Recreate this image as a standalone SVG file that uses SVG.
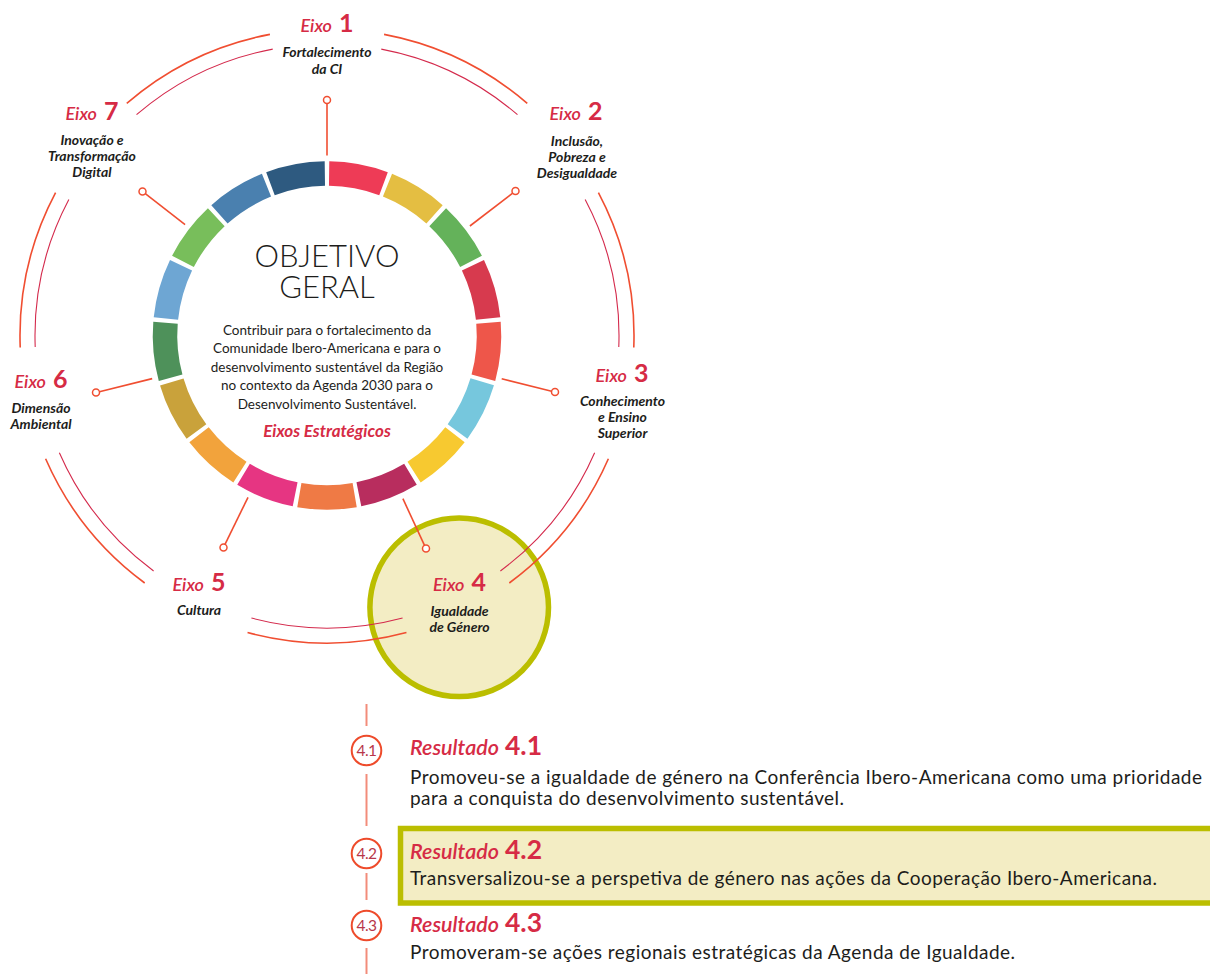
<svg xmlns="http://www.w3.org/2000/svg" width="1210" height="974" viewBox="0 0 1210 974">
<style>
.seg{fill:none;stroke-width:24.5;stroke-dasharray:55.63 2000}
.ao{fill:none;stroke:#F04E31;stroke-width:1.6;stroke-dasharray:160.74 2000}
.ai{fill:none;stroke:#D42A4C;stroke-width:1.1;stroke-dasharray:152.89 2000}
.sp{stroke:#F04E31;stroke-width:1.6;fill:none}
.dot{fill:#fff;stroke:#F04E31;stroke-width:1.5}
.et{font-family:Lato,"Liberation Sans",sans-serif;font-style:italic;font-weight:600;font-size:18px;fill:#D62B45;text-anchor:middle}
.en{font-style:normal;font-weight:700;font-size:25px}
.lb{font-family:Lato,"Liberation Sans",sans-serif;font-style:italic;font-weight:700;font-size:14px;fill:#1d1d1b;text-anchor:middle}
.big{font-family:Lato,"Liberation Sans",sans-serif;font-weight:300;font-size:31px;fill:#1d1d1b;text-anchor:middle}
.par{font-family:Lato,"Liberation Sans",sans-serif;font-size:13.5px;fill:#1d1d1b;text-anchor:middle}
.es{font-family:Lato,"Liberation Sans",sans-serif;font-style:italic;font-weight:700;font-size:17px;fill:#D62B45;text-anchor:middle}
.rt{font-family:Lato,"Liberation Sans",sans-serif;font-style:italic;font-weight:600;font-size:21.5px;fill:#D62B45}
.rn{font-style:normal;font-weight:700;font-size:26.5px}
.rb{font-family:Lato,"Liberation Sans",sans-serif;font-size:19px;fill:#1d1d1b}
.vl{stroke:#F28C7A;stroke-width:2}
.nc{fill:#fff;stroke:#EE4B2B;stroke-width:2}
.nt{font-family:Lato,"Liberation Sans",sans-serif;font-weight:400;font-size:15.5px;fill:#B8374A;text-anchor:middle;letter-spacing:-0.5px}
.hl{fill:#F3EDC4;stroke:#BBBE00;stroke-width:5.5}
</style>
<rect width="1210" height="974" fill="#fff"/>
<g id="ring">
<circle class="seg" cx="327" cy="335.5" r="162" stroke="#EE3B56" transform="rotate(-89.25 327 335.5)"/>
<circle class="seg" cx="327" cy="335.5" r="162" stroke="#E4BE42" transform="rotate(-68.074 327 335.5)"/>
<circle class="seg" cx="327" cy="335.5" r="162" stroke="#64B25A" transform="rotate(-46.897 327 335.5)"/>
<circle class="seg" cx="327" cy="335.5" r="162" stroke="#D73A4E" transform="rotate(-25.721 327 335.5)"/>
<circle class="seg" cx="327" cy="335.5" r="162" stroke="#EE564A" transform="rotate(-4.544 327 335.5)"/>
<circle class="seg" cx="327" cy="335.5" r="162" stroke="#76C7DD" transform="rotate(16.632 327 335.5)"/>
<circle class="seg" cx="327" cy="335.5" r="162" stroke="#F7C930" transform="rotate(37.809 327 335.5)"/>
<circle class="seg" cx="327" cy="335.5" r="162" stroke="#B82D5E" transform="rotate(58.985 327 335.5)"/>
<circle class="seg" cx="327" cy="335.5" r="162" stroke="#EF7A45" transform="rotate(80.162 327 335.5)"/>
<circle class="seg" cx="327" cy="335.5" r="162" stroke="#E63582" transform="rotate(101.338 327 335.5)"/>
<circle class="seg" cx="327" cy="335.5" r="162" stroke="#F2A33C" transform="rotate(122.515 327 335.5)"/>
<circle class="seg" cx="327" cy="335.5" r="162" stroke="#C9A23B" transform="rotate(143.691 327 335.5)"/>
<circle class="seg" cx="327" cy="335.5" r="162" stroke="#4E915A" transform="rotate(164.868 327 335.5)"/>
<circle class="seg" cx="327" cy="335.5" r="162" stroke="#6EA6D3" transform="rotate(186.044 327 335.5)"/>
<circle class="seg" cx="327" cy="335.5" r="162" stroke="#78BE5B" transform="rotate(207.221 327 335.5)"/>
<circle class="seg" cx="327" cy="335.5" r="162" stroke="#4A80AF" transform="rotate(228.397 327 335.5)"/>
<circle class="seg" cx="327" cy="335.5" r="162" stroke="#2E5A80" transform="rotate(249.574 327 335.5)"/>
</g>
<g id="objetivo">
<text class="big" x="327" y="266.5">OBJETIVO</text>
<text class="big" x="327" y="297.5">GERAL</text>
<text class="par" x="327" y="334.5">Contribuir para o fortalecimento da</text>
<text class="par" x="327" y="353">Comunidade Ibero-Americana e para o</text>
<text class="par" x="327" y="371.5">desenvolvimento sustentável da Região</text>
<text class="par" x="327" y="390">no contexto da Agenda 2030 para o</text>
<text class="par" x="327" y="408.5">Desenvolvimento Sustentável.</text>
<text class="es" x="327" y="436.5">Eixos Estratégicos</text>
</g>
<g id="eixo4-circle">
<circle class="hl" cx="459.2" cy="607.3" r="89.3"/>
</g>
<g id="connectors">
<circle class="ao" cx="327" cy="336" r="307" transform="rotate(-79.286 327 336)"/>
<circle class="ai" cx="327" cy="336" r="292" transform="rotate(-79.286 327 336)"/>
<circle class="ao" cx="327" cy="336" r="307" transform="rotate(-27.857 327 336)"/>
<circle class="ai" cx="327" cy="336" r="292" transform="rotate(-27.857 327 336)"/>
<circle class="ao" cx="327" cy="336" r="307" transform="rotate(23.571 327 336)"/>
<circle class="ai" cx="327" cy="336" r="292" transform="rotate(23.571 327 336)"/>
<circle class="ao" cx="327" cy="336" r="307" transform="rotate(75 327 336)"/>
<circle class="ai" cx="327" cy="336" r="292" transform="rotate(75 327 336)"/>
<circle class="ao" cx="327" cy="336" r="307" transform="rotate(126.429 327 336)"/>
<circle class="ai" cx="327" cy="336" r="292" transform="rotate(126.429 327 336)"/>
<circle class="ao" cx="327" cy="336" r="307" transform="rotate(177.857 327 336)"/>
<circle class="ai" cx="327" cy="336" r="292" transform="rotate(177.857 327 336)"/>
<circle class="ao" cx="327" cy="336" r="307" transform="rotate(229.286 327 336)"/>
<circle class="ai" cx="327" cy="336" r="292" transform="rotate(229.286 327 336)"/>
<line class="sp" x1="327" y1="155.5" x2="327" y2="103.5"/>
<line class="sp" x1="469.9" y1="226" x2="512.7" y2="193.1"/>
<line class="sp" x1="501.7" y1="378.8" x2="551.6" y2="391.2"/>
<line class="sp" x1="402.9" y1="498.7" x2="424.5" y2="545.3"/>
<line class="sp" x1="248" y1="497.3" x2="225" y2="544.4"/>
<line class="sp" x1="152.2" y1="378.6" x2="99.4" y2="391.7"/>
<line class="sp" x1="185.1" y1="224.7" x2="145.3" y2="193.7"/>
<circle class="dot" cx="327" cy="100" r="3.5"/>
<circle class="dot" cx="515.5" cy="191" r="3.5"/>
<circle class="dot" cx="555" cy="392" r="3.5"/>
<circle class="dot" cx="426" cy="548.5" r="3.5"/>
<circle class="dot" cx="223.5" cy="547.5" r="3.5"/>
<circle class="dot" cx="96" cy="392.5" r="3.5"/>
<circle class="dot" cx="142.5" cy="191.5" r="3.5"/>
<line class="vl" x1="366.5" y1="704" x2="366.5" y2="726"/>
<line class="vl" x1="366.5" y1="774" x2="366.5" y2="826"/>
<line class="vl" x1="366.5" y1="873" x2="366.5" y2="900"/>
<line class="vl" x1="366.5" y1="948" x2="366.5" y2="974"/>
</g>
<g id="eixo1">
<text class="et" x="327" y="32">Eixo<tspan class="en" dx="7">1</tspan></text>
<text class="lb" x="327" y="57">Fortalecimento</text>
<text class="lb" x="327" y="73.5">da CI</text>
</g>
<g id="eixo2">
<text class="et" x="576" y="120">Eixo<tspan class="en" dx="7">2</tspan></text>
<text class="lb" x="577" y="145.5">Inclusão,</text>
<text class="lb" x="577" y="161.5">Pobreza e</text>
<text class="lb" x="577" y="177.5">Desigualdade</text>
</g>
<g id="eixo3">
<text class="et" x="622" y="381.5">Eixo<tspan class="en" dx="7">3</tspan></text>
<text class="lb" x="622.5" y="406">Conhecimento</text>
<text class="lb" x="622.5" y="422">e Ensino</text>
<text class="lb" x="622.5" y="438">Superior</text>
</g>
<g id="eixo4">
<text class="et" x="459.5" y="590.5">Eixo<tspan class="en" dx="7">4</tspan></text>
<text class="lb" x="459.5" y="615.5">Igualdade</text>
<text class="lb" x="459.5" y="631.5">de Género</text>
</g>
<g id="eixo5">
<text class="et" x="199" y="590.5">Eixo<tspan class="en" dx="7">5</tspan></text>
<text class="lb" x="199" y="615">Cultura</text>
</g>
<g id="eixo6">
<text class="et" x="41" y="387.5">Eixo<tspan class="en" dx="7">6</tspan></text>
<text class="lb" x="41" y="412.5">Dimensão</text>
<text class="lb" x="41" y="428.5">Ambiental</text>
</g>
<g id="eixo7">
<text class="et" x="92" y="120">Eixo<tspan class="en" dx="7">7</tspan></text>
<text class="lb" x="92" y="145">Inovação e</text>
<text class="lb" x="92" y="161">Transformação</text>
<text class="lb" x="92" y="177">Digital</text>
</g>
<g id="resultado41">
<circle class="nc" cx="366.5" cy="750.5" r="14.8"/>
<text class="nt" x="366.5" y="756">4.1</text>
<text class="rt" x="410" y="755">Resultado<tspan class="rn" dx="6">4.1</tspan></text>
<text class="rb" x="410" y="784" textLength="792" lengthAdjust="spacing">Promoveu-se a igualdade de género na Conferência Ibero-Americana como uma prioridade</text>
<text class="rb" x="410" y="804.5" textLength="434" lengthAdjust="spacing">para a conquista do desenvolvimento sustentável.</text>
</g>
<g id="resultado42">
<rect class="hl" x="400.5" y="828.5" width="830" height="74.5"/>
<circle class="nc" cx="366.5" cy="853.5" r="14.8"/>
<text class="nt" x="366.5" y="859">4.2</text>
<text class="rt" x="410" y="858.5">Resultado<tspan class="rn" dx="6">4.2</tspan></text>
<text class="rb" x="410" y="885" textLength="747" lengthAdjust="spacing">Transversalizou-se a perspetiva de género nas ações da Cooperação Ibero-Americana.</text>
</g>
<g id="resultado43">
<circle class="nc" cx="366.5" cy="925.5" r="14.8"/>
<text class="nt" x="366.5" y="931">4.3</text>
<text class="rt" x="410" y="932">Resultado<tspan class="rn" dx="6">4.3</tspan></text>
<text class="rb" x="410" y="959" textLength="605" lengthAdjust="spacing">Promoveram-se ações regionais estratégicas da Agenda de Igualdade.</text>
</g>
</svg>
